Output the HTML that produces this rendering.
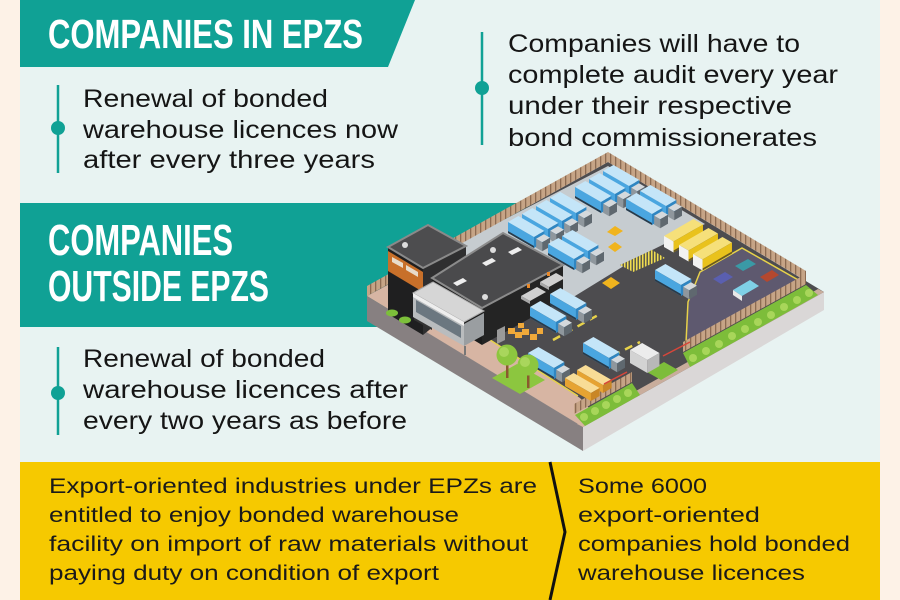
<!DOCTYPE html>
<html><head><meta charset="utf-8"><style>
html,body{margin:0;padding:0;background:#fdf2e7;}
svg{display:block;}
text{font-family:"Liberation Sans",Arial,sans-serif;}
</style></head><body>
<svg width="900" height="600" viewBox="0 0 900 600" xmlns="http://www.w3.org/2000/svg">
<defs>
 <pattern id="fp" width="5" height="20" patternUnits="userSpaceOnUse"><rect width="5" height="20" fill="#c6a486"/><rect width="1.3" height="20" fill="#8c6b52"/></pattern>
 <pattern id="gp" width="3" height="10" patternUnits="userSpaceOnUse"><rect width="3" height="10" fill="#5c5a4c"/><rect width="1.5" height="10" fill="#f0dc50"/></pattern>
 <g id="tk">
  <rect width="30" height="12" fill="#c4e5f8" transform="matrix(0.866,0.5,0.866,-0.5,0,0)"/>
  <rect width="30" height="11" fill="#4aa6e0" transform="matrix(0.866,0.5,0,1,0,0)"/>
  <rect y="9" width="30" height="2" fill="#2a3a48" transform="matrix(0.866,0.5,0,1,0,0)"/>
  <rect width="12" height="11" fill="#2f86c2" transform="matrix(0.866,-0.5,0,1,25.98,15)"/>
  <rect x="31" y="1.5" width="7" height="9" fill="#d5d9dc" transform="matrix(0.866,0.5,0.866,-0.5,0,2)"/>
  <rect x="31" width="7" height="9" fill="#8f979d" transform="matrix(0.866,0.5,0,1,1.3,1.25)"/>
  <rect width="9" height="9" fill="#5f686f" transform="matrix(0.866,-0.5,0,1,34.2,20.25)"/>
 </g>
 <g id="yt">
  <rect width="34" height="11" fill="#f6e07a" transform="matrix(0.866,-0.5,0.866,0.5,0,0)"/>
  <rect width="34" height="11" fill="#e9c21c" transform="matrix(0.866,-0.5,0,1,9.53,5.5)"/>
  <rect y="9" width="34" height="2" fill="#6a5a20" transform="matrix(0.866,-0.5,0,1,9.53,5.5)"/>
  <rect width="11" height="11" fill="#f2f2f2" transform="matrix(0.866,0.5,0,1,0,0)"/>
 </g>
 <g id="ob">
  <rect width="30" height="10" fill="#f8dc96" transform="matrix(0.866,0.5,0.866,-0.5,0,0)"/>
  <rect width="30" height="8" fill="#e6a332" transform="matrix(0.866,0.5,0,1,0,0)"/>
  <rect width="10" height="8" fill="#c98626" transform="matrix(0.866,-0.5,0,1,25.98,15)"/>
 </g>
</defs>

<!-- backgrounds -->
<rect width="900" height="600" fill="#fdf2e7"/>
<rect x="20" y="0" width="860" height="462" fill="#e8f3f2"/>
<polygon points="20,0 415,0 388,67 20,67" fill="#10a195"/>
<rect x="20" y="203" width="510" height="124" fill="#10a195"/>

<text x="48" y="48" font-size="41" font-weight="bold" fill="#fff" textLength="315" lengthAdjust="spacingAndGlyphs">COMPANIES IN EPZS</text>
<text x="48" y="255" font-size="44" font-weight="bold" fill="#fff" textLength="185" lengthAdjust="spacingAndGlyphs">COMPANIES</text>
<text x="48" y="301" font-size="44" font-weight="bold" fill="#fff" textLength="221" lengthAdjust="spacingAndGlyphs">OUTSIDE EPZS</text>

<!-- bullets -->
<line x1="58" y1="85" x2="58" y2="173" stroke="#10a195" stroke-width="2.5"/>
<circle cx="58" cy="128" r="7" fill="#10a195"/>
<line x1="482" y1="32" x2="482" y2="145" stroke="#10a195" stroke-width="2.5"/>
<circle cx="482" cy="88" r="7" fill="#10a195"/>
<line x1="58" y1="347" x2="58" y2="435" stroke="#10a195" stroke-width="2.5"/>
<circle cx="58" cy="393" r="7" fill="#10a195"/>

<g font-size="25" fill="#151515">
 <text x="83" y="107" textLength="245" lengthAdjust="spacingAndGlyphs">Renewal of bonded</text>
 <text x="83" y="138" textLength="315" lengthAdjust="spacingAndGlyphs">warehouse licences now</text>
 <text x="83" y="168" textLength="292" lengthAdjust="spacingAndGlyphs">after every three years</text>
 <text x="508" y="52" textLength="292" lengthAdjust="spacingAndGlyphs">Companies will have to</text>
 <text x="508" y="83" textLength="330" lengthAdjust="spacingAndGlyphs">complete audit every year</text>
 <text x="508" y="114" textLength="284" lengthAdjust="spacingAndGlyphs">under their respective</text>
 <text x="508" y="146" textLength="309" lengthAdjust="spacingAndGlyphs">bond commissionerates</text>
 <text x="83" y="367" textLength="242" lengthAdjust="spacingAndGlyphs">Renewal of bonded</text>
 <text x="83" y="398" textLength="325" lengthAdjust="spacingAndGlyphs">warehouse licences after</text>
 <text x="83" y="429" textLength="324" lengthAdjust="spacingAndGlyphs">every two years as before</text>
</g>

<!-- ===== illustration ===== -->
<polygon points="367,296 583,427 583,451 367,321" fill="#878081"/>
<polygon points="583,427 824,292 824,310 583,451" fill="#dad7d7"/>
<polygon points="608,162 824,292 583,427 367,296" fill="#4d4c4f"/>
<polygon points="583,427 824,292 818,289 577,424" fill="#c9ad9c"/>
<!-- back lot -->
<polygon points="430,258 608,166 705,224 640,256 575,296 520,300 470,280" fill="#c6ccd0"/>
<!-- sidewalk -->
<polygon points="367,296 395,281 470,325 487,338 580,398 598,418 583,427" fill="#d7b5a3"/>
<line x1="487" y1="338" x2="578" y2="396" stroke="#e7d24a" stroke-width="1.5"/>
<!-- purple lot -->
<polygon points="700,272 742,248 800,281 686,343 688,302" fill="#5e596f" stroke="#e7d24a" stroke-width="1.5"/>
<!-- fences -->
<polygon points="367,296 608,162 608,152 367,286" fill="url(#fp)"/>
<polygon points="608,162 806,281 806,271 608,152" fill="url(#fp)"/>
<polygon points="683,352 806,284 806,274 683,342" fill="url(#fp)"/>
<polygon points="574,414 632,382 632,372 574,404" fill="url(#fp)"/>
<!-- green strips -->
<polygon points="690,367 818,295 806,285 683,353" fill="#7dbd3a"/>
<polygon points="585,426 640,395 632,383 575,415" fill="#7dbd3a"/>
<polygon points="647,372 664,362 678,370 661,380" fill="#7dbd3a"/>
<g fill="#a8d65a">
 <circle cx="693" cy="358" r="4"/><circle cx="706" cy="351" r="4"/><circle cx="719" cy="344" r="4"/><circle cx="732" cy="336" r="4"/><circle cx="745" cy="329" r="4"/><circle cx="758" cy="322" r="4"/><circle cx="771" cy="315" r="4"/><circle cx="784" cy="307" r="4"/><circle cx="797" cy="300" r="4"/><circle cx="809" cy="293" r="4"/>
 <circle cx="584" cy="417" r="4"/><circle cx="595" cy="411" r="4"/><circle cx="606" cy="405" r="4"/><circle cx="617" cy="399" r="4"/><circle cx="628" cy="393" r="4"/>
</g>
<!-- gate hatched -->
<polygon points="620,265 652,250 665,258 633,272" fill="url(#gp)"/>
<polyline points="553,340 600,314" stroke="#e7d24a" stroke-width="2.5" stroke-dasharray="8 6"/>
<polyline points="600,362 640,342" stroke="#e7d24a" stroke-width="2.5" stroke-dasharray="8 6"/>

<!-- back trucks -->
<use href="#tk" transform="translate(603,171)"/>
<use href="#tk" transform="translate(589,179)"/>
<use href="#tk" transform="translate(640,191)"/>
<use href="#tk" transform="translate(575,187)"/>
<use href="#tk" transform="translate(550,198)"/>
<use href="#tk" transform="translate(626,199)"/>
<use href="#tk" transform="translate(536,206)"/>
<use href="#tk" transform="translate(522,214)"/>
<use href="#tk" transform="translate(508,222)"/>
<use href="#tk" transform="translate(562,236)"/>
<use href="#tk" transform="translate(548,244)"/>
<!-- yellow trailers -->
<use href="#yt" transform="translate(664,236)"/>
<use href="#yt" transform="translate(679,245)"/>
<use href="#yt" transform="translate(693,254)"/>
<!-- forklifts -->
<polygon points="607,232 615,226 623,231 615,236" fill="#f0b41e"/>
<polygon points="608,247 615,242 622,247 615,252" fill="#f0b41e"/>
<polygon points="602,283 611,277 620,283 611,289" fill="#f0b41e"/>

<!-- tall building -->
<polygon points="388,247 423,268 423,335 388,314" fill="#1f1f20"/>
<polygon points="388,251 423,272 423,292 388,271" fill="#c8702a"/>
<polygon points="392,257 403,263 403,268 392,262" fill="#e8dccb"/>
<polygon points="406,265 418,272 418,277 406,270" fill="#e8dccb"/>
<polygon points="423,268 466,246 466,300 423,335" fill="#2f2f30"/>
<polygon points="428,225 466,246 423,268 388,247" fill="#4d4d4f" stroke="#8a8a8a" stroke-width="2"/>
<circle cx="405" cy="245" r="3" fill="#ddd"/>
<!-- big building -->
<polygon points="432,278 482,308 482,345 432,315" fill="#1c1c1c"/>
<polygon points="482,308 563,265 563,300 482,345" fill="#242424"/>
<polygon points="503,233 563,265 482,308 432,278" fill="#4a4a4c" stroke="#8b8b8b" stroke-width="2"/>
<polygon points="453,283 463,278 467,281 457,286" fill="#eee"/>
<polygon points="482,263 492,258 496,261 486,266" fill="#eee"/>
<polygon points="508,252 518,247 522,250 512,255" fill="#eee"/>
<circle cx="493" cy="250" r="3" fill="#ddd"/>
<circle cx="485" cy="297" r="3" fill="#ddd"/>
<polygon points="497,330 505,326 505,340 497,344" fill="#9a9a9a"/>
<polygon points="521,296 537,287 546,292 530,301" fill="#d0d0d0"/>
<polygon points="521,296 530,301 530,304 521,299" fill="#a8a8a8"/>
<polygon points="540,282 556,273 565,278 549,287" fill="#d0d0d0"/>
<polygon points="540,282 549,287 549,290 540,285" fill="#a8a8a8"/>
<rect x="527" y="284" width="3" height="4" fill="#e8892a"/>
<rect x="547" y="272" width="3" height="4" fill="#e8892a"/>
<!-- office block -->
<polygon points="414,306 432,316 432,330 414,320" fill="#333"/>
<polygon points="413,295 464,324 464,346 413,317" fill="#b9bcbe"/>
<polygon points="416,300 461,326 461,338 416,312" fill="#6b7780"/>
<polygon points="464,324 484,313 484,335 464,346" fill="#9a9ea1"/>
<polygon points="413,293 433,282 484,311 464,322" fill="#d6d6d6" stroke="#aaa" stroke-width="1"/>
<polygon points="413,293 464,322 464,326 413,297" fill="#eeeeee"/>
<line x1="465" y1="346" x2="465" y2="355" stroke="#777" stroke-width="2"/>
<ellipse cx="392" cy="313" rx="6" ry="3.5" fill="#7cbf3a"/>
<ellipse cx="405" cy="320" rx="6" ry="3.5" fill="#7cbf3a"/>

<!-- front trucks -->
<use href="#tk" transform="translate(655,270)"/>
<use href="#tk" transform="translate(550,294)"/>
<use href="#tk" transform="translate(530,307)"/>
<!-- orange crates -->
<g fill="#f0a93a">
 <rect x="508" y="328" width="7" height="6"/><rect x="515" y="332" width="7" height="6"/><rect x="522" y="329" width="7" height="6"/><rect x="530" y="334" width="7" height="6"/><rect x="518" y="323" width="6" height="5"/><rect x="537" y="328" width="6" height="6"/>
</g>
<use href="#tk" transform="translate(583,343)"/>
<use href="#tk" transform="translate(528,353)"/>
<use href="#ob" transform="translate(577,370)"/>
<use href="#ob" transform="translate(565,378)"/>
<!-- gatehouse -->
<g transform="translate(630,350)">
 <rect width="20" height="14" fill="#ececec" transform="matrix(0.866,0.5,0.866,-0.5,0,0)"/>
 <rect width="20" height="13" fill="#d3d3d3" transform="matrix(0.866,0.5,0,1,0,0)"/>
 <rect width="14" height="13" fill="#b8b8b8" transform="matrix(0.866,-0.5,0,1,17.32,10)"/>
</g>
<line x1="663" y1="356" x2="690" y2="342" stroke="#d8463a" stroke-width="1.5"/>
<line x1="627" y1="372" x2="604" y2="384" stroke="#d8463a" stroke-width="1.5"/>
<!-- cars -->
<polygon points="735,266 748,259 756,264 743,271" fill="#3a9aa6"/>
<polygon points="713,279 725,272 733,277 721,284" fill="#5a5fb0"/>
<polygon points="760,277 772,270 779,275 767,282" fill="#b4482f"/>
<polygon points="733,290 750,280 759,286 742,296" fill="#7fd0e6"/>
<polygon points="733,290 742,296 742,301 733,295" fill="#e8e8e8"/>
<!-- trees -->
<polygon points="492,378 517,364 545,380 520,394" fill="#8cc63f"/>
<rect x="506" y="357" width="2.5" height="21" fill="#8a5a2e"/>
<rect x="527" y="367" width="2.5" height="21" fill="#8a5a2e"/>
<circle cx="507" cy="355" r="10.5" fill="#8dc63f"/>
<circle cx="504" cy="352" r="5" fill="#a9d65c"/>
<circle cx="528" cy="365" r="10.5" fill="#8dc63f"/>
<circle cx="525" cy="362" r="5" fill="#a9d65c"/>

<!-- ===== bottom yellow band ===== -->
<rect x="20" y="462" width="860" height="138" fill="#f6c900"/>
<polyline points="550,462 565,532 550,600" fill="none" stroke="#111" stroke-width="3"/>
<g font-size="21.5" fill="#1a1a1a">
 <text x="49" y="493" textLength="488" lengthAdjust="spacingAndGlyphs">Export-oriented industries under EPZs are</text>
 <text x="49" y="522" textLength="410" lengthAdjust="spacingAndGlyphs">entitled to enjoy bonded warehouse</text>
 <text x="49" y="551" textLength="479" lengthAdjust="spacingAndGlyphs">facility on import of raw materials without</text>
 <text x="49" y="580" textLength="390" lengthAdjust="spacingAndGlyphs">paying duty on condition of export</text>
 <text x="578" y="493" textLength="129" lengthAdjust="spacingAndGlyphs">Some 6000</text>
 <text x="578" y="522" textLength="182" lengthAdjust="spacingAndGlyphs">export-oriented</text>
 <text x="578" y="551" textLength="272" lengthAdjust="spacingAndGlyphs">companies hold bonded</text>
 <text x="578" y="580" textLength="227" lengthAdjust="spacingAndGlyphs">warehouse licences</text>
</g>
</svg>
</body></html>
